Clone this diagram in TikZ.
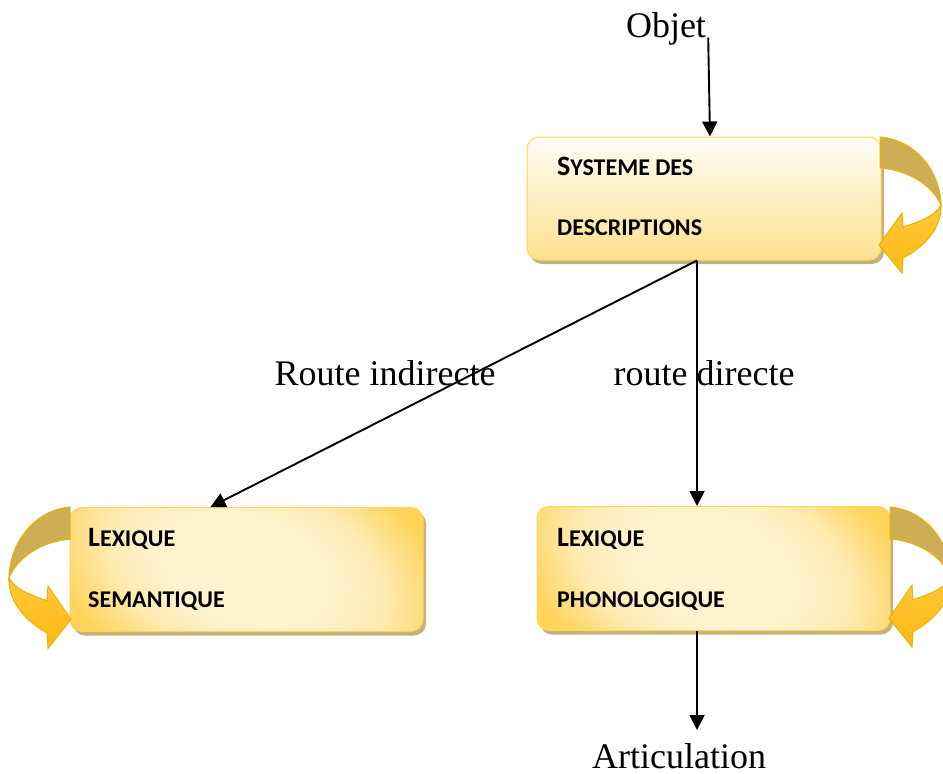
\documentclass[tikz,border=0pt]{standalone}
\usepackage{fontspec}
\setmainfont{Liberation Serif}
\newfontfamily\boxfont{Carlito}
\usetikzlibrary{arrows.meta,shadows}

\definecolor{boxedge}{HTML}{FFD45A}
\definecolor{boxshadow}{HTML}{C4B27C}
\definecolor{paletop}{HTML}{FFFDF6}
\definecolor{palebottom}{HTML}{FFE18E}
\definecolor{radin}{HTML}{FFF3D0}
\definecolor{radmid}{HTML}{FFEBB4}
\definecolor{radout}{HTML}{FFD45A}
\definecolor{bandback}{HTML}{CBAE55}
\definecolor{bandedge}{HTML}{EDB200}
\definecolor{bandlight}{HTML}{FFC839}
\definecolor{banddeep}{HTML}{FFB915}

% broad pale centre fading to yellow in the corners
\pgfdeclareradialshading{cardglow}{\pgfpoint{0bp}{0bp}}{%
  color(0bp)=(radin); color(14bp)=(radin); color(24bp)=(radmid);
  color(36bp)=(radout); color(50bp)=(radout)}

\newcommand\capbig[1]{{\fontsize{28}{32}\selectfont #1}}
\newcommand\capsmall[1]{{\fontsize{24}{28}\selectfont #1}}

\tikzset{
  card/.style={rectangle, rounded corners=12pt, draw=boxedge, line width=1pt,
    drop shadow={shadow xshift=3pt, shadow yshift=-4pt, fill=boxshadow, opacity=1}},
  topcard/.style={card, top color=paletop, bottom color=palebottom,
    minimum width=354pt, minimum height=123pt},
  sidecard/.style={card, shading=cardglow, shading angle=-20,
    minimum width=353pt, minimum height=124pt},
  cardtext/.style={anchor=base west, inner sep=0pt, font=\boxfont\bfseries},
  plain/.style={inner sep=0pt, font=\fontsize{36}{40}\selectfont},
  link/.style={line width=1.9pt, -{Triangle[length=15pt,width=15pt]}},
  loop arrow/.pic={
    % underside of the ribbon
    \filldraw[fill=bandback, draw=bandedge, line width=1pt]
      (0,0) .. controls (35,3) and (60,33) .. (61,68)
      .. controls (52,48) and (28,33) .. (0,31) -- cycle;
    % front of the ribbon with its head
    \shadedraw[top color=bandlight, bottom color=banddeep, draw=bandedge, line width=1pt]
      (61,68) .. controls (62,88) and (48,108) .. (23,121)
      -- (22,136) -- (-1,108) -- (22,76) -- (23,90)
      .. controls (42,84) and (56,78) .. (61,68) -- cycle;
  }
}

\begin{document}
\begin{tikzpicture}[x=1pt, y=-1pt]
\useasboundingbox[fill=white] (0,0) rectangle (943,774);

% boxes
\node[topcard] (sys) at (704,198.5) {};
\node[sidecard] (sem) at (246.5,569.5) {};
\node[sidecard] (pho) at (713.5,568.5) {};

% self-loops on the boxes
\pic at (880,137) {loop arrow};
\pic[xscale=-1, yscale=1.04] at (70,507) {loop arrow};
\pic[yscale=1.03] at (890,507) {loop arrow};

% box labels
\node[cardtext] (sys1) at (557,175) {\capbig{S}\capsmall{YSTEME DES}};
\node[cardtext] (sys2) at (557,235) {\capsmall{DESCRIPTIONS}};
\node[cardtext] (sem1) at (88,546) {\capbig{L}\capsmall{EXIQUE}};
\node[cardtext] (sem2) at (88,607) {\capsmall{SEMANTIQUE}};
\node[cardtext] (pho1) at (557,546) {\capbig{L}\capsmall{EXIQUE}};
\node[cardtext] (pho2) at (557,607) {\capsmall{PHONOLOGIQUE}};

% free texts
\node[plain, anchor=base] (obj) at (666,37.5) {Objet};
\node[plain, anchor=base] (ind) at (385,385.5) {Route indirecte};
\node[plain, anchor=base] (dir) at (704,385.5) {route directe};
\node[plain, anchor=base] (art) at (679,768) {Articulation};
\coordinate (artin) at (697,730);

% connectors
\draw[link] ([xshift=2pt]obj.base east) -- ([xshift=6pt]sys.north);
\draw[link] ([xshift=-7pt]sys.south) -- ([xshift=-36pt]sem.north);
\draw[link] ([xshift=-7pt]sys.south) -- ([xshift=-16.5pt]pho.north);
\draw[link] ([xshift=-16.5pt]pho.south) -- (artin);
\end{tikzpicture}
\end{document}
